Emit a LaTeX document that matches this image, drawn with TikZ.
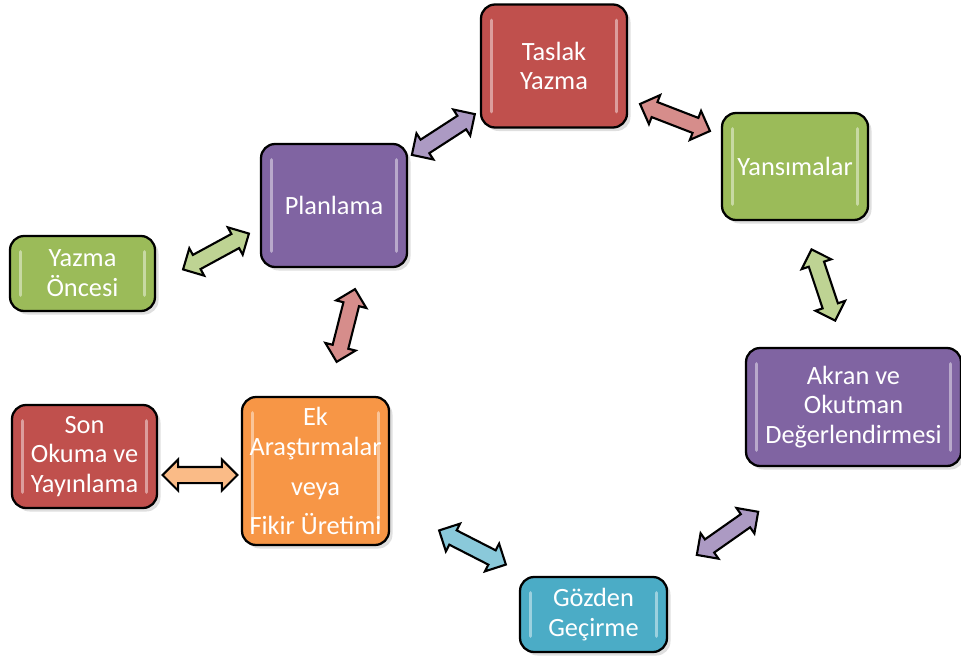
\documentclass[tikz,border=0pt]{standalone}
\usepackage{fontspec}
\setmainfont{Carlito}
\usetikzlibrary{shapes.arrows,shadows}
\definecolor{stred}{HTML}{C0504D}
\definecolor{stpurple}{HTML}{8064A2}
\definecolor{stgreen}{HTML}{9BBB59}
\definecolor{storange}{HTML}{F79646}
\definecolor{stblue}{HTML}{4BACC6}
\begin{document}
\begin{tikzpicture}[
  x=0.02cm, y=-0.02cm,
  font=\fontsize{15}{17}\selectfont,
  stage/.style={
    rectangle, rounded corners=8pt,
    draw=black, fill=#1, line width=1.3pt,
    text=white, align=center, inner sep=2pt,
    drop shadow={opacity=0.25, shadow xshift=2pt, shadow yshift=-2pt},
    path picture={
      \draw[white, opacity=0.45, line width=2pt, line cap=round]
        ([xshift=6pt,yshift=-9pt]path picture bounding box.north west) -- ([xshift=6pt,yshift=9pt]path picture bounding box.south west)
        ([xshift=-6pt,yshift=-9pt]path picture bounding box.north east) -- ([xshift=-6pt,yshift=9pt]path picture bounding box.south east);
    }
  },
  link/.style={
    double arrow, draw=black, fill=#1!65!white, line width=1.2pt,
    minimum height=1.5cm, minimum width=0.3cm,
    double arrow head extend=0.15cm, inner xsep=0pt, inner ysep=0.14cm,
    sloped, midway
  }
]
\useasboundingbox (0,0) rectangle (961,659);

\node[stage=stred, minimum width=2.92cm, minimum height=2.46cm] (taslak) at (554,66) {Taslak\\Yazma};
\node[stage=stgreen, minimum width=2.92cm, minimum height=2.14cm] (yansima) at (795,166.5) {Yansımalar};
\node[stage=stpurple, minimum width=2.92cm, minimum height=2.46cm] (plan) at (334,205.5) {Planlama};
\node[stage=stgreen, minimum width=2.9cm, minimum height=1.5cm] (oncesi) at (82.5,273.5) {Yazma\\Öncesi};
\node[stage=stpurple, minimum width=4.3cm, minimum height=2.36cm] (akran) at (853.5,407) {Akran ve\\Okutman\\Değerlendirmesi};
\node[stage=stred, minimum width=2.9cm, minimum height=2.06cm] (son) at (84.5,456.5) {Son\\Okuma ve\\Yayınlama};
\node[stage=storange, minimum width=2.94cm, minimum height=2.96cm] (ek) at (315.5,471) {Ek\\Araştırmalar\\[6pt]veya\\[5pt]Fikir Üretimi};
\node[stage=stblue, minimum width=2.94cm, minimum height=1.5cm] (gozden) at (593.5,614.5) {Gözden\\Geçirme};

% arrow ends
\coordinate (p1a) at (411.7,155);   \coordinate (p1b) at (475,114);
\coordinate (p2a) at (638.3,103.3); \coordinate (p2b) at (711.7,131.7);
\coordinate (p3a) at (182,270);     \coordinate (p3b) at (250,233);
\coordinate (p4a) at (336.7,361.7); \coordinate (p4b) at (355,289.3);
\coordinate (p5a) at (811.7,250);   \coordinate (p5b) at (835,320);
\coordinate (p6a) at (161.7,475);   \coordinate (p6b) at (238.3,475);
\coordinate (p7a) at (438.3,530);   \coordinate (p7b) at (506.7,565);
\coordinate (p8a) at (696.7,555);   \coordinate (p8b) at (758.3,511.7);

\foreach \i/\c in {1/stpurple,2/stred,3/stgreen,4/stred,5/stgreen,6/storange,7/stblue,8/stpurple} {
  \path (p\i a) -- (p\i b) node[link=\c] (arr\i) {};
}
\end{tikzpicture}
\end{document}
